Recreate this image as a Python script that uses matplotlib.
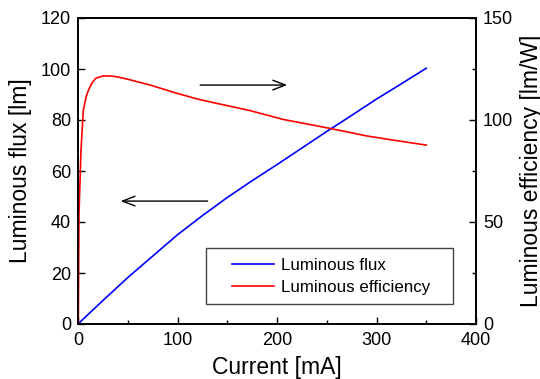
import matplotlib.pyplot as plt
from matplotlib.patches import Rectangle
from matplotlib.ticker import MultipleLocator

plt.rcParams['font.family'] = ['Liberation Sans', 'DejaVu Sans']

# luminous flux [lm] vs current [mA]
current_flux = [0, 25, 50, 75, 100, 125, 150, 175, 200, 225, 250, 275, 300, 325, 350]
flux = [0, 9.2, 18.2, 26.6, 35.0, 42.5, 49.6, 56.2, 62.5, 69.0, 75.5, 81.8, 88.2, 94.2, 100.3]

# luminous efficiency [lm/W] vs current [mA]
current_eff = [0.3, 1, 3, 5.4, 8, 10, 13.8, 18, 25, 32, 40, 50, 72, 100, 120,
               139, 173, 206, 253, 290, 320, 350]
efficiency = [0, 54, 85, 105, 111, 114, 118, 120.5, 121.6, 121.6, 121.1, 120.0,
              117.2, 113.0, 110.3, 108.2, 104.6, 100.3, 95.9, 92.2, 89.9, 87.7]

fig = plt.figure(figsize=(5.4, 3.79), dpi=100)
ax = fig.add_axes([78/540, 55/379, 398/540, 306/379])
ax2 = ax.twinx()

l1, = ax.plot(current_flux, flux, color='#0000ff', lw=1.2, label='Luminous flux')
l2, = ax2.plot(current_eff, efficiency, color='#ff0000', lw=1.2, label='Luminous efficiency')

ax.set_xlim(0, 400)
ax.set_ylim(0, 120)
ax2.set_ylim(0, 150)
ax.xaxis.set_major_locator(MultipleLocator(100))
ax.xaxis.set_minor_locator(MultipleLocator(50))
ax.yaxis.set_major_locator(MultipleLocator(20))
ax2.yaxis.set_major_locator(MultipleLocator(50))
ax2.yaxis.set_minor_locator(MultipleLocator(25))

for a in (ax, ax2):
    a.tick_params(which='major', direction='in', length=5, width=1, labelsize=13)
    a.tick_params(which='minor', direction='in', length=3, width=1)
    for s in a.spines.values():
        s.set_linewidth(1.2)
ax.tick_params(axis='both', which='both', top=False, right=False)
ax.tick_params(axis='x', pad=6)
ax.tick_params(axis='y', pad=5)
ax2.tick_params(axis='y', pad=5)

ax.set_xlabel('Current [mA]', fontsize=16.5, labelpad=5)
ax.set_ylabel('Luminous flux [lm]', fontsize=16.5, labelpad=6)
ax2.set_ylabel('Luminous efficiency [lm/W]', fontsize=16.5, labelpad=5)

# arrows pointing to the matching axis
arrow = dict(arrowstyle='->,head_length=0.9,head_width=0.35', color='k', lw=1)
ax.annotate('', xy=(213, 93.7), xytext=(120, 93.7), arrowprops=arrow)
ax.annotate('', xy=(40, 48.2), xytext=(133, 48.2), arrowprops=arrow)

# legend box drawn separately so it can be as wide as in the original
box = Rectangle((0.3216, 0.0654), 0.6206, 0.183, transform=ax.transAxes,
                facecolor='white', edgecolor='#444444', lw=1, zorder=5)
ax2.add_patch(box)
leg = ax2.legend([l1, l2], ['Luminous flux', 'Luminous efficiency'],
                 loc='upper left', bbox_to_anchor=(232/540, 1 - 258/379),
                 bbox_transform=fig.transFigure, borderaxespad=0, borderpad=0,
                 fontsize=12.2, handlelength=2.5, handletextpad=0.4,
                 labelspacing=0.42, frameon=False)
leg.set_zorder(6)

fig.savefig('out.png', dpi=100)
